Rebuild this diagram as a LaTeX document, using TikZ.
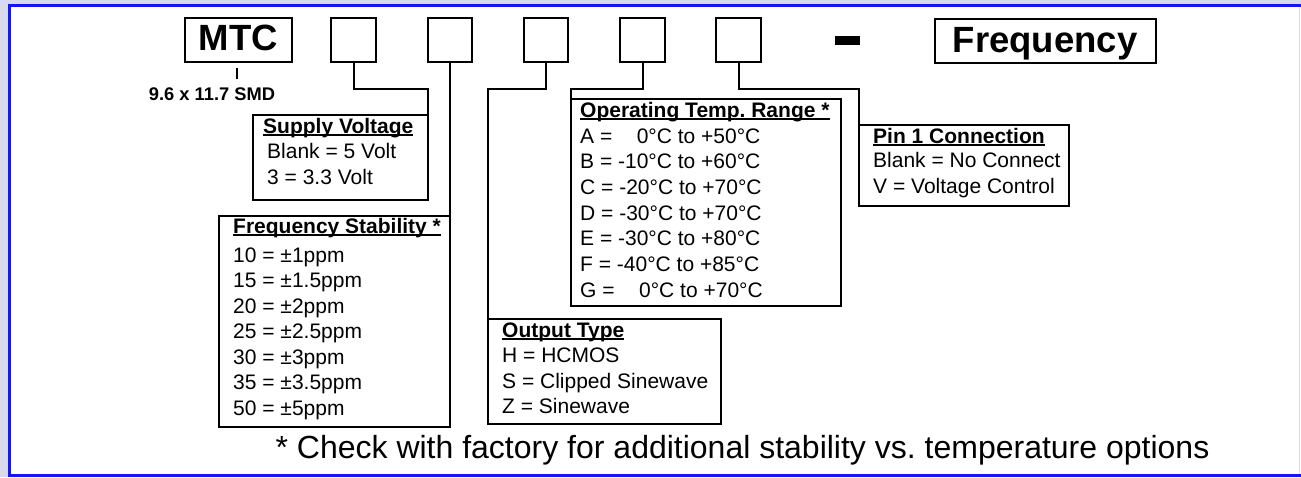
\documentclass[tikz,border=0pt]{standalone}
\usepackage{fontspec}
\setmainfont{Liberation Sans}
\usetikzlibrary{fit}
\frenchspacing
\definecolor{lav}{RGB}{216,216,238}
\definecolor{frameblue}{RGB}{20,20,250}
\newcommand\myul[1]{\setbox0\hbox{#1}\rlap{\rule[-2.6pt]{\wd0}{1.6pt}}\box0}
\begin{document}
\frenchspacing
\begin{tikzpicture}[x=1pt,y=-1pt,
  box/.style={draw=black,line width=2.5pt,inner sep=0pt,outer sep=0pt},
  conn/.style={draw=black,line width=2pt},
  txt/.style={inner sep=0pt,anchor=base west,font=\fontsize{21}{25}\selectfont\frenchspacing},
  hdr/.style={inner sep=0pt,anchor=base west,font=\fontsize{21}{25}\selectfont\bfseries\frenchspacing},
  big/.style={inner sep=0pt,anchor=base,font=\fontsize{36.5}{40}\selectfont\bfseries},
]
\useasboundingbox (0,0) rectangle (1301,477);
% frame
\fill[lav] (0,0) rectangle (1301,477);
\fill[white] (9,5.5) rectangle (1301,477);
\draw[gray!25,line width=1pt] (1299.5,7) -- (1299.5,474);
\draw[frameblue,line width=3pt] (1301,5.5) -- (9,5.5) -- (9,475.5) -- (1301,475.5);

% top code boxes
\node[box,fit={(185,18) (292,62)}] (mtc) {};
\node[big] (mtct) at (238.5,50) {MTC};
\node[box,fit={(331,18) (376,62)}] (b1) {};
\node[box,fit={(428,18) (472,62)}] (b2) {};
\node[box,fit={(524,18) (568,62)}] (b3) {};
\node[box,fit={(620,18) (665,62)}] (b4) {};
\node[box,fit={(716,18) (761,62)}] (b5) {};
\node[fill=black,inner sep=0pt,minimum width=25pt,minimum height=9pt] (dash) at (847.5,40.5) {};
\node[box,fit={(935,19) (1156,63)}] (freq) {};
\node[big] (freqt) at (1045,52) {Frequency};

% package note
\node[inner sep=0pt,anchor=base,font=\fontsize{18.3}{22}\selectfont\bfseries] (smd) at (212,100) {9.6 x 11.7 SMD};
\coordinate (tick) at (237,68);
\draw[line width=2.5pt] (tick) -- (237,79);

% description boxes
\node[box,fit={(253,115) (428,200)}] (sv) {};
\node[box,fit={(219,216) (450,427)}] (fs) {};
\node[box,fit={(488,319) (721,424)}] (ot) {};
\node[box,fit={(571,99) (841,306)}] (otr) {};
\node[box,fit={(859,125) (1069,206)}] (p1) {};

% connectors
\draw[conn] (b1.south) -- (b1.south |- 0,89) -| (sv.north east);
\draw[conn] (b2.south) -- (fs.north east -| b2.south);
\draw[conn] (b3.south) -- (b3.south |- 0,89) -| (ot.north west);
\draw[conn] (b4.south) -- (b4.south |- 0,89) -| (otr.north west);
\draw[conn] (b5.south) -- (b5.south |- 0,89) -| (p1.north west);

% Supply voltage
\node[hdr] (svh) at (263,133) {\myul{Supply Voltage}};
\node[txt] (sv1) at (267,158) {Blank = 5 Volt};
\node[txt] (sv2) at (267,184) {3 = 3.3 Volt};

% Frequency stability
\node[hdr] (fsh) at (233,233) {\myul{Frequency Stability *}};
\foreach \t [count=\i from 0] in {10 = ±1ppm, 15 = ±1.5ppm, 20 = ±2ppm, 25 = ±2.5ppm, 30 = ±3ppm, 35 = ±3.5ppm, 50 = ±5ppm}
  \node[txt] (fs\i) at (233,262+25.5*\i) {\t};

% Operating temp range
\node[hdr] (otrh) at (580,117) {\myul{Operating Temp. Range *}};
\foreach \t [count=\i from 0] in {A = \hphantom{-1}0°C to +50°C, B = -10°C to +60°C, C = -20°C to +70°C, D = -30°C to +70°C, E = -30°C to +80°C, F = -40°C to +85°C, G = \hphantom{-1}0°C to +70°C}
  \node[txt] (otr\i) at (580,143+25.67*\i) {\t};

% Output type
\node[hdr] (oth) at (502,337) {\myul{Output Type}};
\node[txt] (ot1) at (502,362) {H = HCMOS};
\node[txt] (ot2) at (502,388) {S = Clipped Sinewave};
\node[txt] (ot3) at (502,413) {Z = Sinewave};

% Pin 1
\node[hdr] (p1h) at (873,143) {\myul{Pin 1 Connection}};
\node[txt] (p11) at (873,167) {Blank = No Connect};
\node[txt] (p12) at (873,193) {V = Voltage Control};

% footnote
\node[inner sep=0pt,anchor=base,font=\fontsize{32}{38}\selectfont\frenchspacing] (note) at (742.5,458) {* Check with factory for additional stability vs. temperature options};
\end{tikzpicture}
\end{document}
